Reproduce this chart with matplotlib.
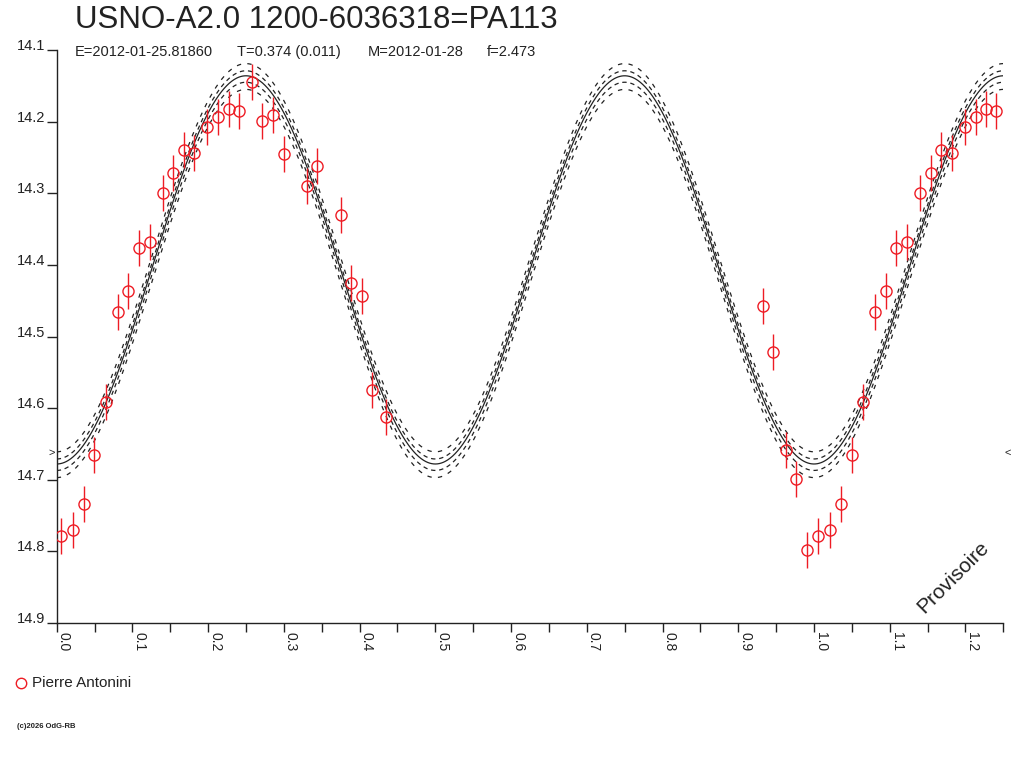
import numpy as np
import matplotlib
matplotlib.use('Agg')
import matplotlib.pyplot as plt
from matplotlib.lines import Line2D

plt.rcParams['font.family'] = ['Liberation Sans', 'DejaVu Sans']

# ---- texts ----
title = "USNO-A2.0 1200-6036318=PA113"
sub_parts = ["E=2012-01-25.81860", "T=0.374 (0.011)", "M=2012-01-28", "f=2.473"]
sub_x_px = [75, 237, 368, 487]
observer = "Pierre Antonini"
credit = "(c)2026 OdG-RB"
watermark = "Provisoire"

# ---- observations (phase, magnitude, error) ----
phase = [-0.0674, -0.0541, -0.0372, -0.0231, -0.0086, 0.0053, 0.0211, 0.0356,
         0.0497, 0.0647, 0.0805, 0.0946, 0.1086, 0.123, 0.140, 0.154, 0.168,
         0.1817, 0.1988, 0.2134, 0.2275, 0.241, 0.258, 0.2715, 0.286, 0.2996,
         0.330, 0.344, 0.375, 0.3886, 0.403, 0.416, 0.435]
mag = [14.457, 14.522, 14.658, 14.699, 14.798, 14.779, 14.770, 14.734,
       14.665, 14.592, 14.466, 14.436, 14.377, 14.368, 14.300, 14.272, 14.240,
       14.244, 14.207, 14.194, 14.182, 14.185, 14.145, 14.199, 14.191, 14.245,
       14.290, 14.262, 14.330, 14.425, 14.443, 14.575, 14.612]
err = [0.025, 0.025, 0.025, 0.025, 0.025, 0.025, 0.025, 0.025,
       0.025, 0.025, 0.025, 0.025, 0.025, 0.025, 0.025, 0.025, 0.025,
       0.025, 0.025, 0.025, 0.025, 0.025, 0.025, 0.025, 0.025, 0.025,
       0.025, 0.025, 0.025, 0.025, 0.025, 0.025, 0.025]

# ---- fitted light-curve model (double wave) ----
fit_mean = 14.407
fit_amp = 0.271
fit_harmonic = 2
envelope_inner = [-0.007, 0.009]
envelope_outer = [-0.017, 0.019]
mean_marker_mag = 14.662

x_ticks = [0.0, 0.1, 0.2, 0.3, 0.4, 0.5, 0.6, 0.7, 0.8, 0.9, 1.0, 1.1, 1.2]
x_tick_labels = ["0.0", "0.1", "0.2", "0.3", "0.4", "0.5", "0.6", "0.7", "0.8", "0.9", "1.0", "1.1", "1.2"]
y_ticks = [14.1, 14.2, 14.3, 14.4, 14.5, 14.6, 14.7, 14.8, 14.9]
y_tick_labels = ["14.1", "14.2", "14.3", "14.4", "14.5", "14.6", "14.7", "14.8", "14.9"]

RED = '#ee1c24'
INK = '#222222'
W, H = 1024, 768

fig = plt.figure(figsize=(W / 100, H / 100), dpi=100)
ax = fig.add_axes([56.7 / W, 1 - 623 / H, (1003.3 - 56.7) / W, (623 - 50) / H])

xmin, xmax = 0.0, 1.25
ax.set_xlim(xmin, xmax)
ax.set_ylim(14.9, 14.1)

# model curves
phi = np.linspace(xmin, xmax, 1500)
model = fit_mean + fit_amp * np.cos(2 * np.pi * fit_harmonic * phi)
ax.plot(phi, model, color=INK, lw=0.9, zorder=2)
for off in envelope_inner:
    ax.plot(phi, model + off, color=INK, lw=0.9, dashes=(3.5, 3), zorder=2)
for off in envelope_outer:
    ax.plot(phi, model + off, color=INK, lw=0.9, dashes=(3.5, 5), zorder=2)

# data (repeated over the plotted phase range)
px, py, pe = [], [], []
for p, m, e in zip(phase, mag, err):
    for shift in (-1, 0, 1):
        q = p + shift
        if xmin <= q <= xmax:
            px.append(q); py.append(m); pe.append(e)
ax.errorbar(px, py, yerr=pe, fmt='none', ecolor=RED, elinewidth=1, capsize=0, zorder=3)
ax.plot(px, py, 'o', mfc='none', mec=RED, ms=8, mew=1, ls='none', zorder=4)

# axes styling
for s in ('top', 'right'):
    ax.spines[s].set_visible(False)
for s in ('left', 'bottom'):
    ax.spines[s].set_color(INK)
    ax.spines[s].set_linewidth(1)

ax.set_yticks(y_ticks)
ax.set_yticklabels(y_tick_labels)
ax.set_xticks(x_ticks)
ax.set_xticklabels(x_tick_labels)
ax.set_xticks(np.array(x_ticks) + 0.05, minor=True)
ax.tick_params(axis='y', direction='out', length=7.5, width=1, pad=1,
               labelsize=10.5, colors=INK)
ax.tick_params(axis='x', which='both', direction='out', length=6.3, width=1,
               pad=0.5, labelsize=10, colors=INK)
for lbl in ax.get_yticklabels():
    lbl.set_verticalalignment('baseline')
for lbl in ax.get_xticklabels():
    lbl.set_rotation(-90)
    lbl.set_horizontalalignment('left')

# mean markers
ax.text(-0.006, mean_marker_mag, '>', ha='center', va='center', fontsize=8,
        color=INK, clip_on=False)
ax.text(1.2556, mean_marker_mag, '<', ha='center', va='center', fontsize=8,
        color=INK, clip_on=False)

# titles
fig.text(75 / W, 1 - 28.5 / H, title, fontsize=22.5, color=INK, va='baseline', ha='left')
for t, xp in zip(sub_parts, sub_x_px):
    fig.text(xp / W, 1 - 56 / H, t, fontsize=10.5, color=INK, va='baseline', ha='left')

# watermark
fig.text(953 / W, 1 - 577 / H, watermark, rotation=45, ha='center', va='center',
         fontsize=15, color=INK)

# legend
fig.add_artist(Line2D([21 / W], [1 - 683 / H], transform=fig.transFigure, marker='o',
                      ms=7.5, mfc='none', mec=RED, mew=1, ls='none'))
fig.text(32 / W, 1 - 683 / H, observer, fontsize=11, color=INK, va='center', ha='left')

# credit
fig.text(17 / W, 1 - 726 / H, credit, fontsize=5.5, color=INK, va='center', ha='left',
         weight='bold')

fig.savefig('out.png', dpi=100)
